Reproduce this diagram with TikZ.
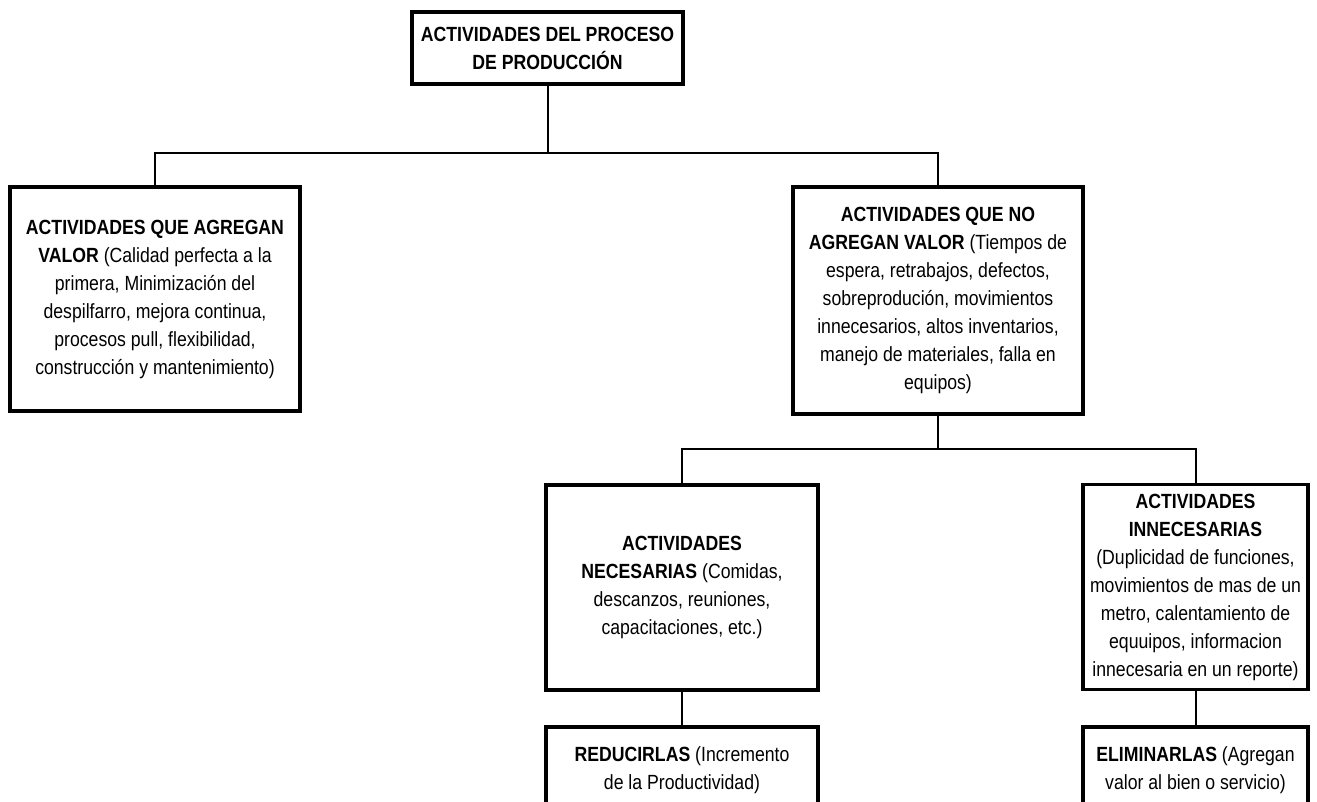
\documentclass[tikz,border=0pt]{standalone}
\usepackage{fontspec}
\setmainfont{Liberation Sans}[FakeStretch=0.86]
\begin{document}
\begin{tikzpicture}[x=0.75pt,y=-0.75pt,
    caja/.style={draw,line width=2.4pt,align=center,inner sep=0pt,
      font=\fontsize{15.4}{21}\selectfont},
    linea/.style={line width=1.5pt}]
  \useasboundingbox (0,0) rectangle (1317,801);

  \node[caja,minimum width=203.25pt,minimum height=54pt] (P) at (547.5,48)
    {\textbf{ACTIVIDADES DEL PROCESO}\\\textbf{DE PRODUCCIÓN}};
  \node[caja,minimum width=217.5pt,minimum height=168pt] (AV) at (155,299)
    {\textbf{ACTIVIDADES QUE AGREGAN}\\\textbf{VALOR} (Calidad perfecta a la\\primera, Minimización del\\despilfarro, mejora continua,\\procesos pull, flexibilidad,\\construcción y mantenimiento)};
  \node[caja,minimum width=217.5pt,minimum height=170.25pt] (NV) at (938,300.5)
    {\textbf{ACTIVIDADES QUE NO}\\\textbf{AGREGAN VALOR} (Tiempos de\\espera, retrabajos, defectos,\\sobreprodución, movimientos\\innecesarios, altos inventarios,\\manejo de materiales, falla en\\equipos)};
  \node[caja,minimum width=204pt,minimum height=153.75pt] (N) at (682,587.5)
    {\textbf{ACTIVIDADES}\\\textbf{NECESARIAS} (Comidas,\\descanzos, reuniones,\\capacitaciones, etc.)};
  \node[caja,minimum width=168.75pt,minimum height=153.75pt] (I) at (1195.5,587)
    {\textbf{ACTIVIDADES}\\\textbf{INNECESARIAS}\\(Duplicidad de funciones,\\movimientos de mas de un\\metro, calentamiento de\\equuipos, informacion\\innecesaria en un reporte)};
  \node[caja,minimum width=204pt,minimum height=64.5pt] (R) at (682,770)
    {\textbf{REDUCIRLAS} (Incremento\\de la Productividad)};
  \node[caja,minimum width=168.75pt,minimum height=64.5pt] (E) at (1195.5,770)
    {\textbf{ELIMINARLAS} (Agregan\\valor al bien o servicio)};

  \coordinate (h1) at (547.5,153);
  \coordinate (h2) at (938,449);

  \draw[linea] (P) -- (h1);
  \draw[linea] (AV.north) |- (h1) -| (NV.north);
  \draw[linea] (NV) -- (h2);
  \draw[linea] (N.north) |- (h2) -| (I.north);
  \draw[linea] (N) -- (R);
  \draw[linea] (I) -- (E);
\end{tikzpicture}
\end{document}
